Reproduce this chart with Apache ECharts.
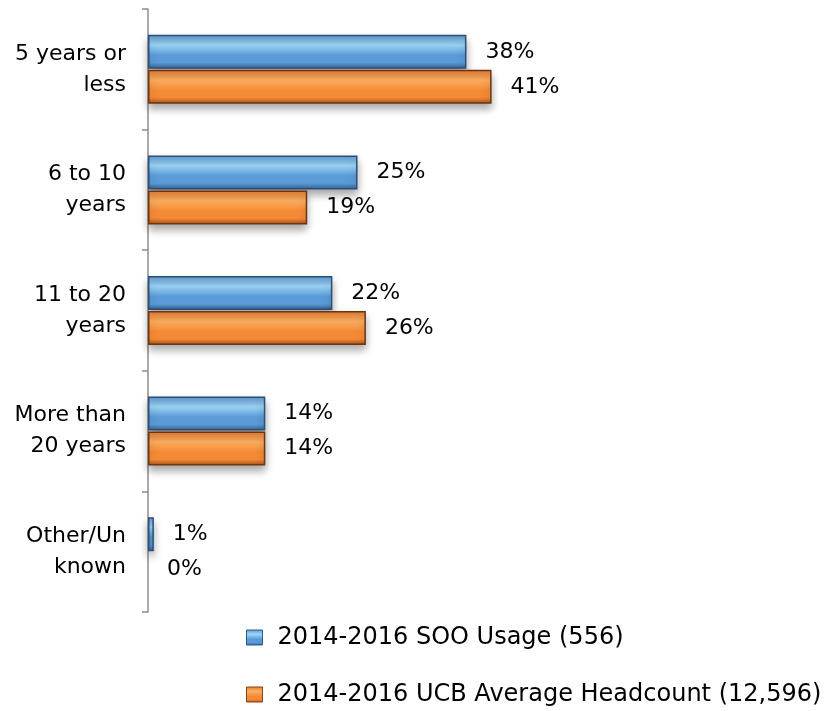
<!DOCTYPE html>
<html><head><meta charset="utf-8">
<script src="https://cdn.jsdelivr.net/npm/echarts@6/dist/echarts.min.js"></script>
<style>html,body{margin:0;padding:0;background:#fff}#c{width:827px;height:711px}</style>
</head><body><div id="c"></div>
<script>
const categories = ['5 years or\nless', '6 to 10\nyears', '11 to 20\nyears', 'More than\n20 years', 'Other/Un\nknown'];
const seriesNames = ['2014-2016 SOO Usage (556)', '2014-2016 UCB Average Headcount (12,596)'];
const sooValues = [38, 25, 22, 14, 0.7];
const ucbValues = [41, 19, 26, 14, 0];

function grad(top, hi, mid, bot) {
  return {type:'linear', x:0, y:0, x2:0, y2:1, colorStops:[
    {offset:0, color:top},{offset:0.3, color:hi},{offset:0.6, color:mid},{offset:0.82, color:mid},{offset:1, color:bot}]};
}
const blueFill = grad('#5d97cf', '#9ed6f7', '#5a9bd8', '#36618f');
const orangeFill = grad('#e07a30', '#fdb060', '#f58a36', '#a6501a');
const font = 'DejaVu Sans';
const noMark = {borderWidth:0, shadowBlur:0, shadowOffsetY:0};
const toData = arr => arr.map(v => v === 0 ? {value:v, itemStyle:noMark} : v);
const labelCfg = {show:true, position:'right', distance:19, fontFamily:font, fontSize:22, color:'#000',
  formatter:p=>Math.round(p.value)+'%'};
const legendBase = {orient:'vertical', left:246, padding:0, itemWidth:16, itemHeight:15, icon:'rect',
  textStyle:{fontFamily:font, fontSize:24, lineHeight:25, color:'#000', padding:[0,0,0,10]}};
const chart = echarts.init(document.getElementById('c'));
chart.setOption({
  animation:false,
  grid:{left:148, top:9, width:419, bottom:99, containLabel:false},
  xAxis:{type:'value', min:0, max:50, show:false},
  yAxis:{type:'category', data:categories, inverse:true,
    axisLine:{show:true, lineStyle:{color:'#8c8c8c', width:1.5}},
    axisTick:{show:true, length:6, lineStyle:{color:'#8c8c8c', width:1.5}},
    axisLabel:{fontFamily:font, fontSize:22, color:'#000', lineHeight:31, margin:22, align:'right'}},
  legend:[
    Object.assign({}, legendBase, {top:625, data:[{name:seriesNames[0], itemStyle:{color:blueFill, borderColor:'#2c5a8a', borderWidth:1}}]}),
    Object.assign({}, legendBase, {top:682, data:[{name:seriesNames[1], itemStyle:{color:orangeFill, borderColor:'#8a4416', borderWidth:1}}]})
  ],
  series:[
    {name:seriesNames[0], type:'bar', data:toData(sooValues), barWidth:34, barGap:'3%',
     itemStyle:{color:blueFill, borderColor:'#2b4f78', borderWidth:1.5, shadowColor:'rgba(0,0,0,0.35)', shadowBlur:8, shadowOffsetY:5},
     label:labelCfg},
    {name:seriesNames[1], type:'bar', data:toData(ucbValues), barWidth:34,
     itemStyle:{color:orangeFill, borderColor:'#6e3510', borderWidth:1.5, shadowColor:'rgba(0,0,0,0.35)', shadowBlur:8, shadowOffsetY:5},
     label:labelCfg}
  ]
});
</script></body></html>
